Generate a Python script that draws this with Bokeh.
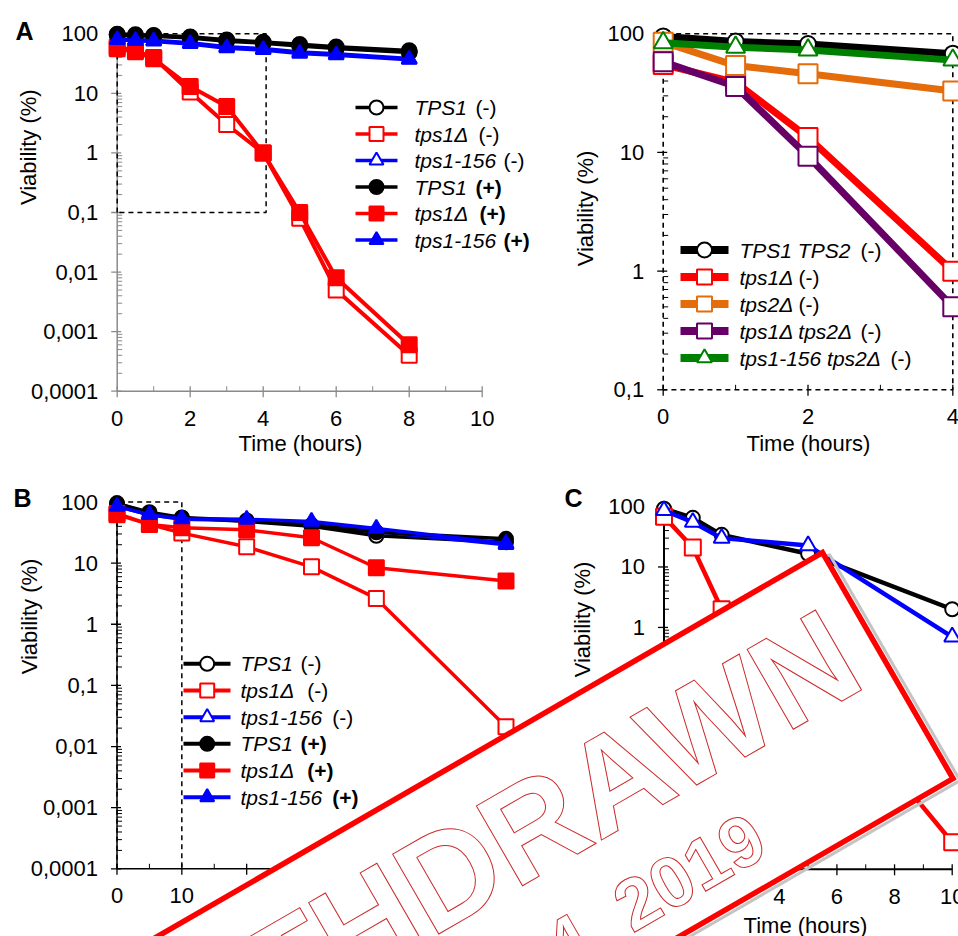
import math
from bokeh.plotting import figure
from bokeh.models import Range1d, LogScale
from bokeh.core.properties import value
from bokeh.embed import file_html
from bokeh.resources import INLINE

# ---------------- data ----------------
# Panel A (left): viability over 0-8 h
A_time = [0, 0.5, 1, 2, 3, 4, 5, 6, 8]
A_TPS1_m = [98, 96, 94, 88, 79, 72, 66, 60, 52]
A_tps1d_m = [60, 52, 40, 10.5, 3.0, 1.0, 0.08, 0.005, 0.0004]
A_tps156_m = [82, 79, 77, 70, 60, 56, 49, 46, 38]
A_TPS1_p = [96, 94, 92, 86, 76, 70, 63, 57, 49]
A_tps1d_p = [56, 50, 38, 13, 6.0, 1.0, 0.1, 0.008, 0.0006]
A_tps156_p = [80, 77, 75, 68, 58, 54, 47, 44, 37]
A_xticks = [0, 2, 4, 6, 8, 10]
A_xminor = [1, 3, 5, 7, 9]
A_yticks = [1e-4, 1e-3, 1e-2, 1e-1, 1, 10, 100]
A_ylabels = ["0,0001", "0,001", "0,01", "0,1", "1", "10", "100"]
A_legend = ["TPS1", "tps1Δ", "tps1-156", "TPS1", "tps1Δ", "tps1-156"]
A_legend_suffix = ["(-)", "(-)", "(-)", "(+)", "(+)", "(+)"]

# Panel A (right): 0-4 h detail
A2_time = [0, 1, 2, 4]
A2_TPS1TPS2 = [95, 86, 82, 68]
A2_tps1d = [55, 39, 13.4, 1.0]
A2_tps2d = [85, 54, 46, 33]
A2_tps1d_tps2d = [58, 36, 9.3, 0.5]
A2_tps156_tps2d = [84, 77, 73, 60]
A2_xticks = [0, 2, 4]
A2_xminor = [1, 3]
A2_yticks = [0.1, 1, 10, 100]
A2_ylabels = ["0,1", "1", "10", "100"]
A2_legend = ["TPS1 TPS2", "tps1Δ", "tps2Δ", "tps1Δ tps2Δ", "tps1-156 tps2Δ"]

# Panel B
B_time = [0, 5, 10, 20, 30, 40, 60]
B_TPS1_m = [95, 65, 55, 48, 40, 28, 22]
B_tps1d_m = [62, 43, 31, 18.5, 8.7, 2.65, 0.021]
B_tps156_m = [85, 62, 52, 50, 46, 33, 20]
B_TPS1_p = [95, 68, 56, 50, 42, 32, 25]
B_tps1d_p = [65, 43, 38, 35, 26, 8.4, 5.1]
B_tps156_p = [85, 62, 53, 52, 48, 37, 21]
B_xticks = [0, 10, 20, 30, 40, 50, 60]
B_xminor = [5, 15, 25, 35, 45, 55]

# Panel C
C_time = [0, 1, 2, 5, 10]
C_TPS1 = [92, 65, 34, 16.5, 2.0]
C_tps1d = [68, 21, 2.0, 0.21, 0.00028]
C_tps156 = [86, 55, 30, 22.6, 0.7]
C_xticks = [0, 2, 4, 6, 8, 10]
C_xminor = [1, 3, 5, 7, 9]

STAMP_TITLE = "WITHDRAWN"
STAMP_DATE = "March 14, 2019"

# ---------------- styling ----------------
FONT = value("Liberation Sans")
FS = "22px"
FSL = "21px"
BLACK, RED, BLUE = "#000000", "#ff0000", "#0000ff"
ORANGE, PURPLE, GREEN = "#e46c0a", "#660066", "#008000"

W, H = 958, 936
X0, X1 = 0, 958      # page pixel span of the canvas
Y0, Y1 = 0, 936

p = figure(width=W, height=H, x_range=Range1d(X0, X1), y_range=Range1d(Y1, Y0),
           output_backend="svg", toolbar_location=None, min_border=0,
           x_axis_location=None, y_axis_location=None, tools="")
p.outline_line_color = None
p.xgrid.grid_line_color = None
p.ygrid.grid_line_color = None
p.background_fill_color = "white"
p.border_fill_color = "white"


class Panel:
    """A sub-chart: linear x, log y, placed by anchoring two data values to page pixels."""
    def __init__(self, name, xa, xb, pxa, pxb, ya, yb, pya, pyb):
        self.name = name
        self.xlo, self.xhi, self.ylo, self.yhi = xa, xb, yb, ya
        self.kx = (pxb - pxa) / (xb - xa)
        self.ea = math.log10(ya)
        self.ky = (pyb - pya) / (math.log10(yb) - self.ea)
        p.extra_x_ranges[name] = Range1d(xa + (X0 - pxa) / self.kx, xa + (X1 - pxa) / self.kx)
        p.extra_y_ranges[name] = Range1d(10 ** (self.ea + (Y1 - pya) / self.ky),
                                         10 ** (self.ea + (Y0 - pya) / self.ky))
        p.extra_y_scales[name] = LogScale()
        self.kw = dict(x_range_name=name, y_range_name=name)

    def dx(self, x, d):
        return x + d / self.kx

    def dy(self, y, d):
        return 10 ** (math.log10(y) + d / self.ky)


PA = Panel("A", 0, 10, 116.7, 481.7, 100, 1e-4, 33.3, 390.7)
PA2 = Panel("A2", 0, 4, 662.7, 952.3, 100, 0.1, 33.3, 389.3)
PB = Panel("B", 0, 60, 116.5, 505.5, 100, 1e-4, 501.5, 868.3)
PC = Panel("C", 0, 10, 663.5, 951.7, 100, 1e-4, 506.0, 868.8)


def draw_axes(P, xmaj, xmin_t, xlabels, ymaj, ylabels, color, dash="solid", lw=1.5,
              draw_lines=True):
    kw = P.kw
    x0, x1, y0, y1 = P.xlo, P.xhi, P.ylo, P.yhi
    if draw_lines:
        p.line([x0, x1], [y0, y0], line_color=color, line_width=lw, line_dash=dash, **kw)
        p.line([x0, x0], [y0, y1], line_color=color, line_width=lw, line_dash=dash, **kw)
    n = len(ymaj)
    p.segment(x0=[P.dx(x0, -6)] * n, x1=[P.dx(x0, 4)] * n, y0=ymaj, y1=ymaj,
              line_color=color, line_width=1.3, **kw)
    minor = []
    for k in range(len(ymaj) - 1):
        for m in range(2, 10):
            minor.append(ymaj[k] * m)
    p.segment(x0=[x0] * len(minor), x1=[P.dx(x0, 5)] * len(minor), y0=minor, y1=minor,
              line_color=color, line_width=1.0, **kw)
    p.segment(x0=xmaj, x1=xmaj, y0=[P.dy(y0, 6)] * len(xmaj), y1=[P.dy(y0, -5)] * len(xmaj),
              line_color=color, line_width=1.3, **kw)
    p.segment(x0=xmin_t, x1=xmin_t, y0=[y0] * len(xmin_t), y1=[P.dy(y0, -5)] * len(xmin_t),
              line_color=color, line_width=1.0, **kw)
    p.text(x=[x0] * n, y=ymaj, text=ylabels, x_offset=-19, text_align="right",
           text_baseline="middle", text_font=FONT, text_font_size=FS, text_color="black", **kw)
    p.text(x=xmaj, y=[P.dy(y0, 27)] * len(xmaj), text=xlabels, text_align="center",
           text_baseline="middle", text_font=FONT, text_font_size=FS, text_color="black", **kw)


def series(P, x, y, color, marker, size, lw, filled, mlw=2.0):
    p.line(x, y, line_color=color, line_width=lw, line_join="round", **P.kw)
    p.scatter(x, y, marker=marker, size=size, line_color=color, line_width=mlw,
              fill_color=color if filled else "white", **P.kw)


def label(x, y, txt, size=FS, style="normal", angle=0.0, align="center"):
    p.text(x=[x], y=[y], text=[txt], angle=angle, text_align=align, text_baseline="middle",
           text_font=FONT, text_font_size=size, text_font_style=style, text_color="black")


def legend(rows, lx0, lx1, mx, tx, ys, texts, suffixes, sx, lw, size):
    for (color, marker, filled), y, t, s, xs in zip(rows, ys, texts, suffixes, sx):
        p.line([lx0, lx1], [y, y], line_color=color, line_width=lw)
        p.scatter([mx], [y], marker=marker, size=size, line_color=color, line_width=2,
                  fill_color=color if filled else "white")
        label(tx, y, t, size=FSL, style="italic", align="left")
        label(xs, y, s, size=FSL, style="bold" if "+" in s else "normal", align="left")


yt6 = [1e-4, 1e-3, 1e-2, 1e-1, 1, 10, 100]
ylab6 = ["0,0001", "0,001", "0,01", "0,1", "1", "10", "100"]

# ---------------- Panel A ----------------
GREY = "#8a8a8a"
draw_axes(PA, A_xticks, A_xminor, [str(v) for v in A_xticks], A_yticks, A_ylabels, GREY)
p.line([0, 0, 4.08, 4.08, 0], [0.1, 100, 100, 0.1, 0.1], line_color="black", line_width=1.5,
       line_dash="5 4", **PA.kw)
series(PA, A_time, A_TPS1_m, BLACK, "circle", 15, 4, False)
series(PA, A_time, A_tps1d_m, RED, "square", 15, 4, False)
series(PA, A_time, A_tps156_m, BLUE, "triangle", 15, 4, False)
series(PA, A_time, A_TPS1_p, BLACK, "circle", 15, 4, True)
series(PA, A_time, A_tps1d_p, RED, "square", 15, 4, True)
series(PA, A_time, A_tps156_p, BLUE, "triangle", 15, 4, True)
rowsA = [(BLACK, "circle", False), (RED, "square", False), (BLUE, "triangle", False),
         (BLACK, "circle", True), (RED, "square", True), (BLUE, "triangle", True)]
legend(rowsA, 355, 397, 376, 414, [107, 133.5, 160, 186.5, 213, 239.5], A_legend,
       A_legend_suffix, [475, 478, 503, 475, 479, 503], 3.5, 14)
label(24, 30.5, "A", size="25px", style="bold")
label(28.3, 146.7, "Viability (%)", angle=math.pi / 2)
label(300, 443.3, "Time (hours)")

# ---------------- Panel A (right) ----------------
draw_axes(PA2, A2_xticks, A2_xminor, [str(v) for v in A2_xticks], A2_yticks, A2_ylabels,
          BLACK, draw_lines=False)
p.line([0, 0, 4, 4, 0], [0.1, 100, 100, 0.1, 0.1], line_color="black", line_width=1.6,
       line_dash="5 4", **PA2.kw)
series(PA2, A2_time, A2_TPS1TPS2, BLACK, "circle", 16, 7, False)
series(PA2, A2_time, A2_tps1d, RED, "square", 19, 7, False)
series(PA2, A2_time, A2_tps2d, ORANGE, "square", 19, 7, False)
series(PA2, A2_time, A2_tps1d_tps2d, PURPLE, "square", 19, 7, False)
series(PA2, A2_time, A2_tps156_tps2d, GREEN, "triangle", 19, 7, False)
rowsA2 = [(BLACK, "circle", False), (RED, "square", False), (ORANGE, "square", False),
          (PURPLE, "square", False), (GREEN, "triangle", False)]
legend(rowsA2, 680, 728, 704, 739, [249.5, 276.5, 303.5, 330.5, 357.5], A2_legend,
       ["(-)"] * 5, [860, 798, 798, 860, 890], 8, 15)
label(585, 208, "Viability (%)", angle=math.pi / 2)
label(808, 443.3, "Time (hours)")

# ---------------- Panel B ----------------
draw_axes(PB, B_xticks, B_xminor, [str(v) for v in B_xticks], yt6, ylab6, BLACK)
p.line([0, 0, 10, 10], [1e-4, 100, 100, 1e-4], line_color="black", line_width=1.5,
       line_dash="5 4", **PB.kw)
series(PB, B_time, B_TPS1_m, BLACK, "circle", 14, 3.5, False)
series(PB, B_time, B_tps1d_m, RED, "square", 15, 3.5, False)
series(PB, B_time, B_tps156_m, BLUE, "triangle", 15, 3.5, False)
series(PB, B_time, B_TPS1_p, BLACK, "circle", 14, 3.5, True)
series(PB, B_time, B_tps1d_p, RED, "square", 15, 3.5, True)
series(PB, B_time, B_tps156_p, BLUE, "triangle", 15, 3.5, True)
legend(rowsA, 183, 230, 206.7, 240, [663.3, 690, 716.7, 743.3, 770, 796.7], A_legend,
       A_legend_suffix, [300, 306.7, 331.7, 300, 306.7, 331.7], 4, 14)
label(22, 497.5, "B", size="25px", style="bold")
label(29.3, 616, "Viability (%)", angle=math.pi / 2)
label(311, 922, "Time (hours)")

# ---------------- Panel C ----------------
draw_axes(PC, C_xticks, C_xminor, [str(v) for v in C_xticks], yt6, ylab6, BLACK, lw=2)
series(PC, C_time, C_TPS1, BLACK, "circle", 14, 4.5, False)
series(PC, C_time, C_tps1d, RED, "square", 16, 4.5, False)
series(PC, C_time, C_tps156, BLUE, "triangle", 16, 4.5, False)
label(573, 497, "C", size="25px", style="bold")
label(581.7, 619, "Viability (%)", angle=math.pi / 2)
label(805, 925, "Time (hours)")

# ---------------- WITHDRAWN stamp ----------------
ang = math.radians(30)
u = (math.cos(ang), -math.sin(ang))
wv = (math.sin(ang), math.cos(ang))
TOP = (822.0, 552.0)
SH, SL = 261.0, 1100.0


def pt(s, d):
    return (TOP[0] - s * u[0] + d * wv[0], TOP[1] - s * u[1] + d * wv[1])


corners = [pt(0, 0), pt(0, SH), pt(SL, SH), pt(SL, 0)]
p.patch([c[0] + 7 for c in corners], [c[1] + 2 for c in corners], fill_color=None,
        line_color="#c4c4c4", line_width=3)
p.patch([c[0] for c in corners], [c[1] for c in corners], fill_color="white",
        line_color="#ff0000", line_width=5.5, line_join="miter")
tx, ty = pt(26, 92)
p.text(x=[tx], y=[ty], text=[STAMP_TITLE], angle=ang, text_align="right",
       text_baseline="middle", text_font=FONT, text_font_size="134px", text_font_style="bold",
       text_color="white", text_outline_color="#cc2a2a")
dx_, dy_ = pt(195, 210)
p.text(x=[dx_], y=[dy_], text=[STAMP_DATE], angle=ang, text_align="right",
       text_baseline="middle", text_font=FONT, text_font_size="72px", text_font_style="bold",
       text_color="white", text_outline_color="#cc2a2a")

open("out.html", "w").write(file_html(p, INLINE))
